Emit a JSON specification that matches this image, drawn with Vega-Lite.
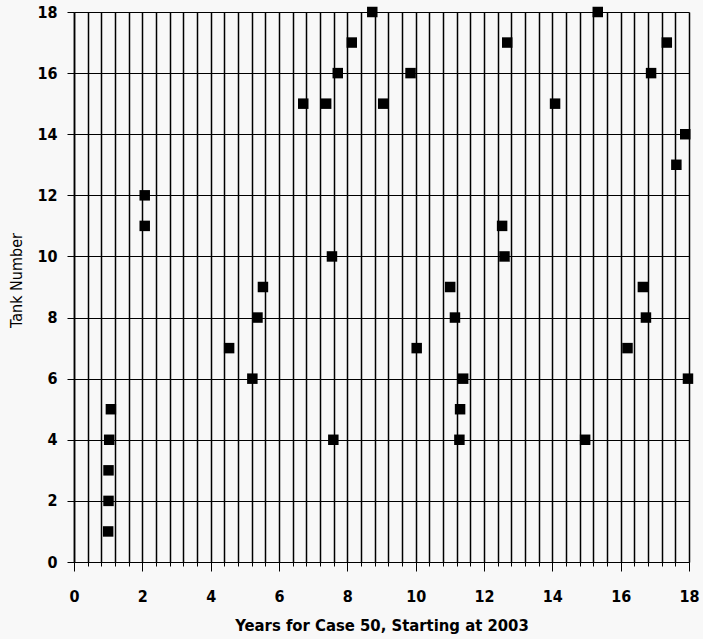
{
  "$schema": "https://vega.github.io/schema/vega-lite/v6.json",
  "width": 615,
  "height": 550,
  "autosize": "none",
  "padding": {"left": 74, "top": 12, "right": 14, "bottom": 77},
  "background": "#f8f8f8",
  "data": {
    "values": [
      {"year": 1.0, "tank": 1},
      {"year": 1.01, "tank": 2},
      {"year": 1.01, "tank": 3},
      {"year": 1.03, "tank": 4},
      {"year": 1.08, "tank": 5},
      {"year": 2.07, "tank": 11},
      {"year": 2.07, "tank": 12},
      {"year": 4.54, "tank": 7},
      {"year": 5.22, "tank": 6},
      {"year": 5.37, "tank": 8},
      {"year": 5.53, "tank": 9},
      {"year": 6.71, "tank": 15},
      {"year": 7.38, "tank": 15},
      {"year": 7.55, "tank": 10},
      {"year": 7.59, "tank": 4},
      {"year": 7.72, "tank": 16},
      {"year": 8.13, "tank": 17},
      {"year": 8.73, "tank": 18},
      {"year": 9.05, "tank": 15},
      {"year": 9.85, "tank": 16},
      {"year": 10.03, "tank": 7},
      {"year": 11.01, "tank": 9},
      {"year": 11.15, "tank": 8},
      {"year": 11.28, "tank": 4},
      {"year": 11.3, "tank": 5},
      {"year": 11.39, "tank": 6},
      {"year": 12.53, "tank": 11},
      {"year": 12.6, "tank": 10},
      {"year": 12.68, "tank": 17},
      {"year": 14.08, "tank": 15},
      {"year": 14.96, "tank": 4},
      {"year": 15.33, "tank": 18},
      {"year": 16.2, "tank": 7},
      {"year": 16.65, "tank": 9},
      {"year": 16.74, "tank": 8},
      {"year": 16.89, "tank": 16},
      {"year": 17.35, "tank": 17},
      {"year": 17.63, "tank": 13},
      {"year": 17.89, "tank": 14},
      {"year": 17.97, "tank": 6}
    ]
  },
  "mark": {"type": "point", "shape": "square", "filled": true, "color": "#000000", "size": 110, "opacity": 1},
  "encoding": {
    "x": {
      "field": "year",
      "type": "quantitative",
      "scale": {"domain": [0, 18], "nice": false, "zero": false},
      "axis": {
        "title": "Years for Case 50, Starting at 2003",
        "values": [0,0.4,0.8,1.2,1.6,2,2.4,2.8,3.2,3.6,4,4.4,4.8,5.2,5.6,6,6.4,6.8,7.2,7.6,8,8.4,8.8,9.2,9.6,10,10.4,10.8,11.2,11.6,12,12.4,12.8,13.2,13.6,14,14.4,14.8,15.2,15.6,16,16.4,16.8,17.2,17.6,18],
        "labelExpr": "datum.value % 2 === 0 ? format(datum.value, 'd') : ''",
        "labelOverlap": false,
        "labelFlush": false,
        "labelBound": false,
        "grid": true,
        "gridColor": "#000000",
        "gridWidth": 1.5,
        "gridOpacity": 1,
        "domainColor": "#000000",
        "domainWidth": 1.2,
        "tickColor": "#000000",
        "tickWidth": 1,
        "tickSize": {"condition": {"test": "datum.value % 2 === 0", "value": 9}, "value": 4},
        "labelPadding": 17,
        "labelFont": "DejaVu Sans Condensed, Liberation Sans, sans-serif",
        "labelFontWeight": "bold",
        "labelFontSize": 16,
        "labelColor": "#000000",
        "titleFont": "DejaVu Sans Condensed, Liberation Sans, sans-serif",
        "titleFontWeight": "bold",
        "titleFontSize": 16.5,
        "titleColor": "#000000",
        "titlePadding": 13
      }
    },
    "y": {
      "field": "tank",
      "type": "quantitative",
      "scale": {"domain": [0, 18], "nice": false, "zero": false},
      "axis": {
        "title": "Tank Number",
        "values": [0,2,4,6,8,10,12,14,16,18],
        "format": "d",
        "grid": true,
        "gridColor": "#000000",
        "gridWidth": 1.2,
        "gridOpacity": 1,
        "domainColor": "#000000",
        "domainWidth": 1.5,
        "tickColor": "#000000",
        "tickSize": 7,
        "labelPadding": 10,
        "labelFont": "DejaVu Sans Condensed, Liberation Sans, sans-serif",
        "labelFontWeight": "bold",
        "labelFontSize": 16,
        "labelColor": "#000000",
        "labelOverlap": false,
        "labelBound": false,
        "labelFlush": false,
        "titleFont": "DejaVu Sans Condensed, Liberation Sans, sans-serif",
        "titleFontWeight": "normal",
        "titleFontSize": 16,
        "titleColor": "#000000",
        "titleAngle": -90,
        "titleAlign": "center",
        "titleBaseline": "middle",
        "titleX": -58,
        "titleY": 268
      }
    }
  },
  "config": {"view": {"stroke": null}}
}
